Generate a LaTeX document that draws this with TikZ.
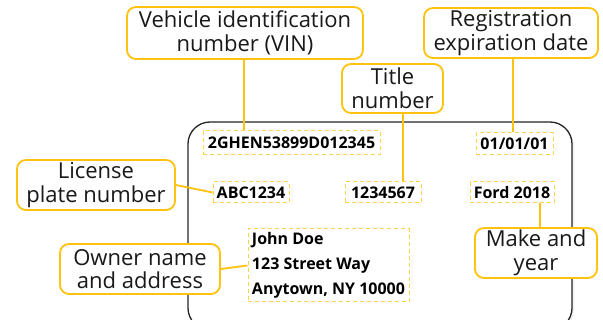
\documentclass[tikz,border=0pt]{standalone}
\usepackage{fontspec}
\setmainfont{Open Sans}
\usetikzlibrary{shadows}
\definecolor{callout}{HTML}{FFC20E}
\definecolor{dashy}{HTML}{FFD24D}
\tikzset{
  calloutbox/.style={draw=callout, line width=1.8pt, rounded corners=9pt, fill=white,
    align=center, inner sep=0pt, font=\fontsize{22}{23.5}\selectfont, text=black!90},
  fieldbox/.style={draw=dashy, line width=1pt, dash pattern=on 4pt off 3pt,
    inner sep=0pt, font=\bfseries\fontsize{16}{17}\selectfont},
  leader/.style={draw=callout, line width=1.8pt}
}
\begin{document}
\begin{tikzpicture}[x=1pt,y=-1pt]
\useasboundingbox (0,0) rectangle (603,320);
\begin{scope}
\clip (0,0) rectangle (603,320);
% the card
\draw[black!85, line width=1.3pt, rounded corners=22pt,
  drop shadow={shadow xshift=2pt, shadow yshift=-2pt, opacity=0.12}, fill=white]
  (188,122) rectangle (572,330);
\end{scope}

% fields printed on the card
\node[fieldbox, minimum width=177pt, minimum height=24pt] (vin) at (291.5,143) {2GHEN53899D012345};
\node[fieldbox, minimum width=77pt, minimum height=22pt] (exp) at (514.5,144) {01/01/01};
\node[fieldbox, minimum width=76pt, minimum height=21pt] (plate) at (251,192.5) {ABC1234};
\node[fieldbox, minimum width=76pt, minimum height=21pt] (title) at (383,192.5) {1234567};
\node[fieldbox, minimum width=84pt, minimum height=21pt] (make) at (512,192.5) {Ford 2018};
\node[fieldbox, minimum width=161pt, minimum height=73pt, align=left,
  font=\bfseries\fontsize{16}{25}\selectfont] (owner) at (328.5,265.5)
  {John Doe\\123 Street Way\\Anytown, NY 10000};

% callouts
\node[calloutbox, minimum width=236pt, minimum height=52pt] (vinC) at (245,33) {Vehicle identification\\number (VIN)};
\node[calloutbox, minimum width=174pt, minimum height=50pt] (expC) at (511,33) {Registration\\expiration date};
\node[calloutbox, minimum width=101pt, minimum height=49pt] (titleC) at (392.5,88.5) {Title\\number};
\node[calloutbox, minimum width=158pt, minimum height=50pt] (plateC) at (96,185) {License\\plate number};
\node[calloutbox, minimum width=160pt, minimum height=50pt] (ownerC) at (140,269) {Owner name\\and address};
\node[calloutbox, minimum width=122pt, minimum height=50pt] (makeC) at (536,253) {Make and\\year};

% leader lines
\draw[leader] (vinC.south -| 244,0) -- (vin.north -| 244,0);
\draw[leader] (expC.south -| 513,0) -- (exp.north -| 513,0);
\draw[leader] (titleC.south -| 403,0) -- (title.north -| 403,0);
\draw[leader] (plateC.east) -- (plate.west);
\draw[leader] (ownerC.east) -- (owner.west);
\draw[leader] (make.south -| 540,0) -- (makeC.north -| 540,0);
\end{tikzpicture}
\end{document}
